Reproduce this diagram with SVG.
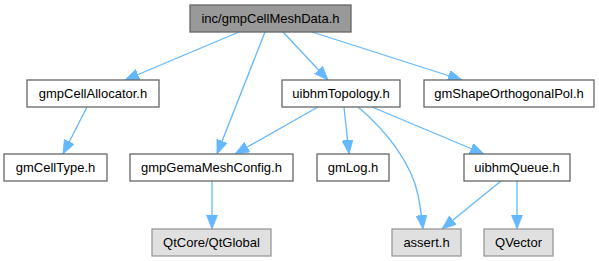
<svg xmlns="http://www.w3.org/2000/svg" width="599" height="261" viewBox="0 0 599 261">
<style>
.n rect{fill:#ffffff;stroke:#666666;stroke-width:1.3}
.root rect{fill:#999999;stroke:#666666;stroke-width:1.3}
.ext rect{fill:#e0e0e0;stroke:#999999;stroke-width:1.3}
text{font-family:"Liberation Sans",Arial,sans-serif;font-size:13px;fill:#000000;text-anchor:middle}
.e path{fill:none;stroke:#63b8ff;stroke-width:1.3;marker-end:url(#arr)}
</style>
<defs>
<marker id="arr" markerUnits="userSpaceOnUse" markerWidth="16" markerHeight="13" refX="14" refY="5.5" orient="auto">
<path d="M0,0 L14,5.5 L0,11 z" fill="#63b8ff" stroke="#63b8ff" stroke-width="0.8"/>
</marker>
</defs>
<g id="edges" class="e">
<path d="M239,32 L125,80"/>
<path d="M265,32 L217,154"/>
<path d="M283,32 L328,80"/>
<path d="M312,32 L462,80"/>
<path d="M87,107 L63,154"/>
<path d="M318,107 L235,154"/>
<path d="M344,107 L349,154"/>
<path d="M358,107 C388,132 412,165 418,195 C421,210 422,220 423,229"/>
<path d="M372,107 L484,154"/>
<path d="M501,181 L442,229"/>
<path d="M517,181 L517,229"/>
<path d="M212,181 L212,229"/>
</g>
<g id="node_root" class="root"><rect x="190" y="5" width="161" height="27"/><text x="270.5" y="23">inc/gmpCellMeshData.h</text></g>
<g id="node_gmpCellAllocator" class="n"><rect x="27" y="80" width="132" height="27"/><text x="93" y="98">gmpCellAllocator.h</text></g>
<g id="node_uibhmTopology" class="n"><rect x="282" y="80" width="118" height="27"/><text x="341" y="98">uibhmTopology.h</text></g>
<g id="node_gmShapeOrthogonalPol" class="n"><rect x="424" y="80" width="170" height="27"/><text x="509" y="98">gmShapeOrthogonalPol.h</text></g>
<g id="node_gmCellType" class="n"><rect x="4" y="154" width="103" height="27"/><text x="55.5" y="172">gmCellType.h</text></g>
<g id="node_gmpGemaMeshConfig" class="n"><rect x="130" y="154" width="163" height="27"/><text x="211.5" y="172">gmpGemaMeshConfig.h</text></g>
<g id="node_gmLog" class="n"><rect x="317" y="154" width="72" height="27"/><text x="353" y="172">gmLog.h</text></g>
<g id="node_uibhmQueue" class="n"><rect x="464" y="154" width="106" height="27"/><text x="517" y="172">uibhmQueue.h</text></g>
<g id="node_QtGlobal" class="ext"><rect x="152" y="229" width="119" height="27"/><text x="211.5" y="247">QtCore/QtGlobal</text></g>
<g id="node_assert" class="ext"><rect x="392" y="229" width="69" height="27"/><text x="426.5" y="247">assert.h</text></g>
<g id="node_QVector" class="ext"><rect x="484" y="229" width="69" height="27"/><text x="518.5" y="247">QVector</text></g>
</svg>
